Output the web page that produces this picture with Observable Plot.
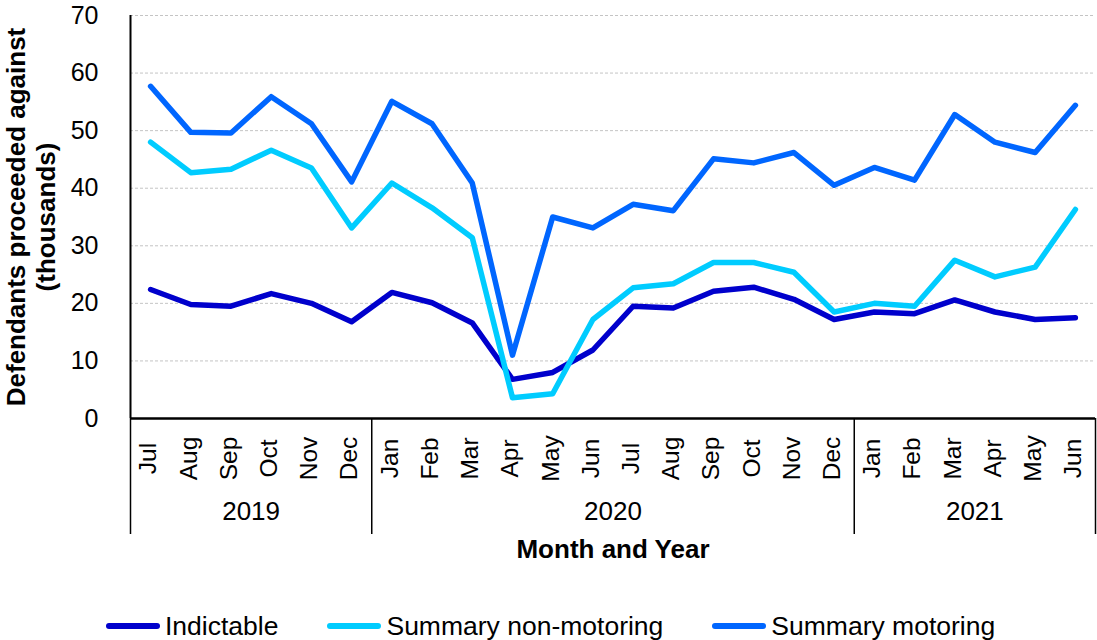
<!DOCTYPE html>
<html>
<head>
<meta charset="utf-8">
<script src="https://cdn.jsdelivr.net/npm/d3@7"></script>
<script src="https://cdn.jsdelivr.net/npm/@observablehq/plot@0.6"></script>
<style>
  html, body { margin: 0; padding: 0; background: #fff; overflow: hidden; }
  body { font-family: "Liberation Sans", Arial, sans-serif; color: #000; }
  #wrap { position: relative; width: 1097px; height: 640px; }
  #legend { position: absolute; left: 106px; top: 611px; display: flex; align-items: center; gap: 49px; font-size: 26.5px; line-height: 30px; }
  .item { display: flex; align-items: center; }
  .sw { width: 54px; height: 6px; border-radius: 3px; margin-right: 5px; }
</style>
</head>
<body>
<div id="wrap">
  <div id="chart"></div>
  <div id="legend"></div>
</div>
<script>
// ---- Data ----
const months = ["Jul","Aug","Sep","Oct","Nov","Dec",
                "Jan","Feb","Mar","Apr","May","Jun","Jul","Aug","Sep","Oct","Nov","Dec",
                "Jan","Feb","Mar","Apr","May","Jun"];
const monthYears = ["2019","2019","2019","2019","2019","2019",
                    "2020","2020","2020","2020","2020","2020","2020","2020","2020","2020","2020","2020",
                    "2021","2021","2021","2021","2021","2021"];
const years = ["2019","2020","2021"];
const indictable  = [22.4,19.8,19.5,21.7,20.0,16.8, 21.9,20.1,16.6,6.8,8.0,11.9,19.5,19.2,22.1,22.8,20.7,17.2, 18.5,18.2,20.6,18.5,17.2,17.5];
const nonMotoring = [48.0,42.7,43.3,46.6,43.5,33.1, 40.9,36.6,31.4,3.6,4.3,17.2,22.7,23.4,27.1,27.1,25.4,18.5, 20.0,19.5,27.5,24.6,26.3,36.3];
const motoring    = [57.7,49.7,49.6,55.9,51.2,41.1, 55.1,51.2,40.9,11.0,35.0,33.1,37.2,36.1,45.1,44.4,46.2,40.5, 43.6,41.4,52.8,48.0,46.2,54.4];
const seriesNames  = ["Indictable","Summary non-motoring","Summary motoring"];
const seriesColors = ["#0000CC","#00CCFF","#0066FF"];
const yGridValues  = [10,20,30,40,50,60,70];
const yTitle = "Defendants proceeded against\n(thousands)";
const xTitle = "Month and Year";

// ---- Build tables ----
const seriesValues = [indictable, nonMotoring, motoring];
const rows = [];
seriesNames.forEach((s, k) => seriesValues[k].forEach((v, i) => rows.push({series: s, i, value: v})));
const monthRows = months.map((m, i) => ({i, label: m}));
const yearGroups = years.map(y => {
  const idx = monthYears.map((yy, i) => yy === y ? i : -1).filter(i => i >= 0);
  return {year: y, start: idx[0] - 0.5, end: idx[idx.length - 1] + 0.5, center: (idx[0] + idx[idx.length - 1]) / 2};
});
const boundaries = Array.from(new Set(yearGroups.flatMap(g => [g.start, g.end])));

const chart = Plot.plot({
  width: 1097,
  height: 590,
  marginLeft: 130,
  marginRight: 2,
  marginTop: 15,
  marginBottom: 172,
  style: {fontFamily: "Liberation Sans, Arial, sans-serif", fontSize: "25px", color: "#000", background: "#fff", overflow: "visible"},
  x: {domain: [-0.5, months.length - 0.5], axis: null},
  y: {domain: [0, 70], ticks: 7, tickSize: 0, tickPadding: 32, label: null},
  color: {domain: seriesNames, range: seriesColors},
  marks: [
    Plot.ruleY(yGridValues, {stroke: "#c4c4c4", strokeWidth: 1, strokeDasharray: "3,2"}),
    Plot.line(rows, {x: "i", y: "value", z: "series", stroke: "series", strokeWidth: 5.5, strokeLinecap: "round", strokeLinejoin: "round"}),
    Plot.ruleY([0], {stroke: "#000", strokeWidth: 2.5}),
    Plot.ruleX([boundaries[0]], {stroke: "#000", strokeWidth: 2}),
    Plot.ruleX(boundaries, {y1: 0, y2: 0, insetBottom: -116, stroke: "#000", strokeWidth: 1.5}),
    Plot.text(monthRows, {x: "i", text: "label", frameAnchor: "bottom", rotate: -90, textAnchor: "middle", lineAnchor: "middle", dy: 40, dx: -2, fontSize: 24.5}),
    Plot.text(yearGroups, {x: "center", text: "year", frameAnchor: "bottom", dy: 101, fontSize: 26}),
    Plot.text([xTitle], {text: d => d, frameAnchor: "bottom", dy: 139, fontSize: 26, fontWeight: "bold"}),
    Plot.text([yTitle], {text: d => d, frameAnchor: "left", dx: -100, rotate: -90, textAnchor: "middle", lineAnchor: "middle", lineHeight: 1.15, fontSize: 26, fontWeight: "bold"})
  ]
});
document.getElementById("chart").appendChild(chart);

// ---- Legend (line swatches) ----
const legend = document.getElementById("legend");
seriesNames.forEach((s, k) => {
  const item = document.createElement("div");
  item.className = "item";
  const sw = document.createElement("div");
  sw.className = "sw";
  sw.style.background = seriesColors[k];
  const label = document.createElement("span");
  label.textContent = s;
  item.appendChild(sw);
  item.appendChild(label);
  legend.appendChild(item);
});
</script>
</body>
</html>
